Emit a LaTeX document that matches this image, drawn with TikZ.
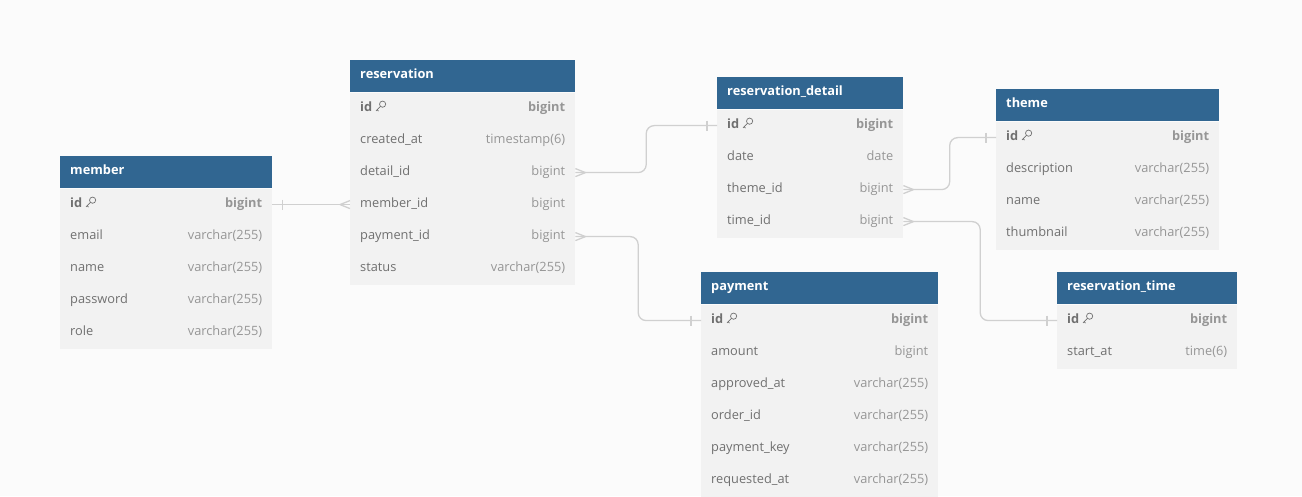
\documentclass[tikz,border=0pt]{standalone}
\usepackage{fontspec}
\setmainfont{Open Sans}
\usepackage{xcolor}
\usepackage{tikz}
\usetikzlibrary{calc}
\usetikzlibrary{positioning}

\definecolor{headblue}{RGB}{49,102,145}
\definecolor{rowgray}{RGB}{242,242,242}
\definecolor{bggray}{RGB}{251,251,251}
\definecolor{namegray}{RGB}{112,112,112}
\definecolor{typegray}{RGB}{150,150,150}
\definecolor{linegray}{RGB}{208,208,208}

% one table: name, top left corner, width, title, key type, other fields
\newcommand{\erdtable}[6]{%
    \node[tabhead, minimum width=#3pt] (#1) at (#2) {};
    \node[tabtitle] (#1-title) at ([xshift=10pt]#1.west) {#4};
    \node[tabrow, minimum width=#3pt] (#1-id) at (#1.south west) {};
    \node[keyname] (#1-id-n) at ([xshift=10pt]#1-id.west) {id};
    \pic at ([xshift=3pt]#1-id-n.east) {keyicon};
    \node[keytype] (#1-id-t) at ([xshift=-10pt]#1-id.east) {#5};
    \foreach \fname/\ftype [count=\i] in {#6} {
        \node[tabrow, minimum width=#3pt] (#1-\fname)
            at ($(#1.south west)+(0,\i*32)$) {};
        \node[fieldname] (#1-\fname-n) at ([xshift=10pt]#1-\fname.west)
            {\expandafter\detokenize\expandafter{\fname}};
        \node[fieldtype] (#1-\fname-t) at ([xshift=-10pt]#1-\fname.east)
            {\ftype};
    }
}

% crow's foot and bar at the ends of a relation
\newcommand{\manyend}[2]{%
    \draw[relline] ($(#1)+(#2*10,0)$) -- ($(#1)+(0,4)$)
                   ($(#1)+(#2*10,0)$) -- ($(#1)+(0,-4)$);
}
\newcommand{\oneend}[2]{%
    \draw[relline] ($(#1)+(#2*10,-5)$) -- ($(#1)+(#2*10,5)$);
}

\begin{document}
\begin{tikzpicture}[x=1pt, y=-1pt]

    \tikzset{
        tabhead/.style={rectangle, fill=headblue, anchor=north west,
            minimum height=32pt, inner sep=0pt},
        tabtitle/.style={anchor=mid west, inner sep=0pt, text=white,
            font=\fontsize{12.8}{15}\selectfont\bfseries},
        tabrow/.style={rectangle, fill=rowgray, anchor=north west,
            minimum height=32pt, inner sep=0pt},
        fieldname/.style={anchor=mid west, inner sep=0pt, text=namegray,
            font=\fontsize{12.8}{15}\selectfont},
        fieldtype/.style={anchor=mid east, inner sep=0pt, text=typegray,
            font=\fontsize{12.8}{15}\selectfont},
        keyname/.style={fieldname, font=\fontsize{12.8}{15}\selectfont\bfseries},
        keytype/.style={fieldtype, font=\fontsize{12.8}{15}\selectfont\bfseries},
        relline/.style={draw=linegray, line width=1.3pt},
        keyicon/.pic={
            \draw[namegray, line width=0.7pt] (7.2,-2.3) circle (3.1);
            \draw[namegray, line width=0.7pt] (5,0) -- (0.6,4.4)
                (1.7,3.3) -- (3.1,4.7);
        }
    }

    % background
    \fill[bggray] (0,0) rectangle (1302,496);

    % tables
    \erdtable{member}{60,156}{212}{member}{bigint}
        {email/varchar(255), name/varchar(255), password/varchar(255),
         role/varchar(255)}
    \erdtable{reservation}{350,60}{225}{reservation}{bigint}
        {created_at/timestamp(6), detail_id/bigint, member_id/bigint,
         payment_id/bigint, status/varchar(255)}
    \erdtable{reservation_detail}{717,77}{186}{reservation\_detail}{bigint}
        {date/date, theme_id/bigint, time_id/bigint}
    \erdtable{theme}{996,89}{223}{theme}{bigint}
        {description/varchar(255), name/varchar(255),
         thumbnail/varchar(255)}
    \erdtable{payment}{701,272}{237}{payment}{bigint}
        {amount/bigint, approved_at/varchar(255), order_id/varchar(255),
         payment_key/varchar(255), requested_at/varchar(255)}
    \erdtable{reservation_time}{1057,272}{180}{reservation\_time}{bigint}
        {start_at/time(6)}

    % relations
    \begin{scope}[rounded corners=8pt]
        \draw[relline] (reservation-member_id.west) -- (member-id.east);
        \draw[relline] (reservation-detail_id.east)
            -| ($(reservation-detail_id.east)!.5!(reservation_detail-id.west)$)
            |- (reservation_detail-id.west);
        \draw[relline] (reservation-payment_id.east)
            -| ($(reservation-payment_id.east)!.5!(payment-id.west)$)
            |- (payment-id.west);
        \draw[relline] (reservation_detail-theme_id.east)
            -| ($(reservation_detail-theme_id.east)!.5!(theme-id.west)$)
            |- (theme-id.west);
        \draw[relline] (reservation_detail-time_id.east)
            -| ($(reservation_detail-time_id.east)!.5!(reservation_time-id.west)$)
            |- (reservation_time-id.west);
    \end{scope}

    \manyend{reservation-member_id.west}{-1}
    \oneend{member-id.east}{1}
    \manyend{reservation-detail_id.east}{1}
    \oneend{reservation_detail-id.west}{-1}
    \manyend{reservation-payment_id.east}{1}
    \oneend{payment-id.west}{-1}
    \manyend{reservation_detail-theme_id.east}{1}
    \oneend{theme-id.west}{-1}
    \manyend{reservation_detail-time_id.east}{1}
    \oneend{reservation_time-id.west}{-1}

\end{tikzpicture}
\end{document}
